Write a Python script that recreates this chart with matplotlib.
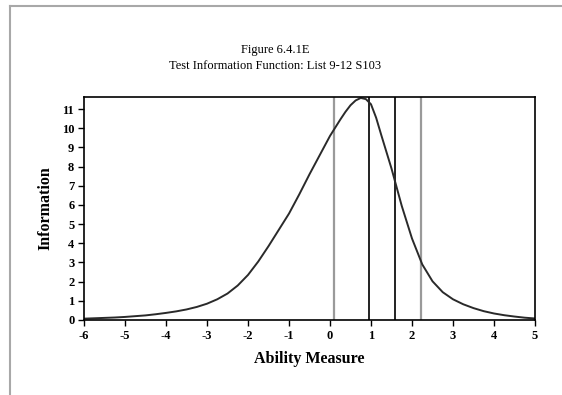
import matplotlib
matplotlib.use("Agg")
import matplotlib.pyplot as plt
from matplotlib.lines import Line2D

# ability measure (theta) and test information
theta = [-6.0, -5.75, -5.5, -5.25, -5.0, -4.75, -4.5, -4.25, -4.0, -3.75,
         -3.5, -3.25, -3.0, -2.75, -2.5, -2.25, -2.0, -1.75, -1.5, -1.25,
         -1.0, -0.75, -0.5, -0.25, 0.0, 0.25, 0.375, 0.5, 0.625, 0.75,
         0.875, 1.0, 1.125, 1.25, 1.5, 1.75, 2.0, 2.25, 2.5, 2.75,
         3.0, 3.25, 3.5, 3.75, 4.0, 4.25, 4.5, 4.75, 5.0]
info = [0.07, 0.09, 0.11, 0.13, 0.16, 0.20, 0.24, 0.30, 0.37, 0.45,
        0.55, 0.68, 0.85, 1.08, 1.38, 1.80, 2.35, 3.05, 3.85, 4.70,
        5.55, 6.55, 7.60, 8.60, 9.60, 10.45, 10.85, 11.20, 11.45, 11.58,
        11.52, 11.25, 10.55, 9.65, 7.90, 5.95, 4.25, 2.90, 2.02, 1.45,
        1.08, 0.82, 0.62, 0.46, 0.34, 0.25, 0.18, 0.12, 0.08]

# vertical reference lines
gray_lines = [0.10, 2.22]
black_lines = [0.96, 1.59]

x_ticks = list(range(-6, 6))
y_ticks = list(range(0, 12))

plt.rcParams['font.family'] = ['Liberation Serif', 'DejaVu Serif']
plt.rcParams['axes.unicode_minus'] = False

fig = plt.figure(figsize=(5.62, 3.95), dpi=100)
ax = fig.add_axes([84 / 562, 75 / 395, 451 / 562, 223 / 395])

for xv in gray_lines:
    ax.axvline(xv, color='#9a9a9a', lw=1.6, zorder=1)
for xv in black_lines:
    ax.axvline(xv, color='#111111', lw=1.3, zorder=1)

ax.plot(theta, info, color='#2a2a2a', lw=1.4, zorder=2,
        solid_joinstyle='round')

ax.set_xlim(-6, 5)
ax.set_ylim(0, 11.63)
ax.set_xticks(x_ticks)
ax.set_yticks(y_ticks)
ax.tick_params(direction='out', length=4, width=1, labelsize=9, pad=3)
for lab in ax.get_xticklabels() + ax.get_yticklabels():
    lab.set_fontweight('bold')
for sp in ax.spines.values():
    sp.set_linewidth(1.2)

ax.set_xlabel('Ability Measure', fontsize=11.5, fontweight='bold', labelpad=7)
ax.set_ylabel('Information', fontsize=11.5, fontweight='bold', labelpad=6)

fig.text(275 / 562, 1 - 50 / 395, 'Figure 6.4.1E', ha='center', va='center',
         fontsize=9)
fig.text(275 / 562, 1 - 66 / 395, 'Test Information Function: List 9-12 S103',
         ha='center', va='center', fontsize=9)

# outer frame (top and left edges only visible)
fig.add_artist(Line2D([10 / 562, 1], [1 - 6 / 395, 1 - 6 / 395],
                      color='#a8a8a8', lw=1.5))
fig.add_artist(Line2D([10 / 562, 10 / 562], [0, 1 - 6 / 395],
                      color='#a8a8a8', lw=1.5))

fig.savefig('out.png', dpi=100)
